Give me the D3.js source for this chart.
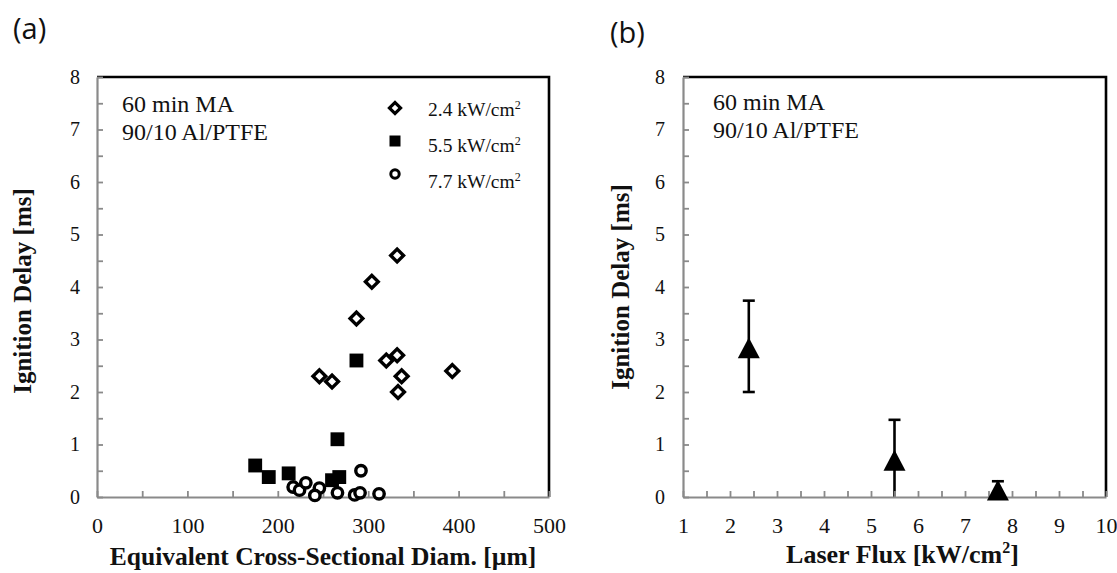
<!DOCTYPE html>
<html><head><meta charset="utf-8">
<script src="https://cdn.jsdelivr.net/npm/d3@7"></script>
<style>
body{margin:0;background:#fff}
svg{display:block}
svg text{font-family:'Liberation Serif','Times New Roman',serif !important;fill:#111}
svg text.panel{font-family:'Open Sans','Liberation Sans',sans-serif !important}
</style></head><body>
<svg id="c" width="1117" height="573"></svg>
<script>
// ---- data ----
const diam24  = [332, 304, 287, 320, 332, 246, 260, 337, 333, 393];
const delay24 = [4.6, 4.1, 3.4, 2.6, 2.7, 2.3, 2.2, 2.3, 2.0, 2.4];
const diam55  = [287, 266, 175, 190, 212, 260, 268];
const delay55 = [2.6, 1.1, 0.6, 0.38, 0.45, 0.32, 0.38];
const diam77  = [292, 217, 224, 231, 246, 241, 266, 285, 291, 312];
const delay77 = [0.5, 0.19, 0.13, 0.27, 0.17, 0.03, 0.08, 0.04, 0.08, 0.06];

const flux      = [2.4, 5.5, 7.7];
const meanDelay = [2.84, 0.70, 0.13];
const errLow    = [2.0, 0, 0];
const errHigh   = [3.74, 1.47, 0.3];

const legendLabels = ["2.4", "5.5", "7.7"];
const yTicks  = d3.range(0, 8.01, 0.5);
const xTicksA = d3.range(0, 500.1, 50);
const xTicksB = d3.range(1, 10.01, 0.5);
const annot = ["60 min MA", "90/10 Al/PTFE"];

// ---- layout ----
const svg = d3.select("#c");
const AX = "#8a8a8a";
const plotTop = 77, plotBottom = 497;
const A = {x0: 97, x1: 549};
const B = {x0: 683, x1: 1106};

const yA = d3.scaleLinear().domain([0, 8]).range([plotBottom, plotTop]);
const yB = d3.scaleLinear().domain([0, 8]).range([plotBottom, plotTop]);
const xA = d3.scaleLinear().domain([0, 500]).range([A.x0, A.x1]);
const xB = d3.scaleLinear().domain([1, 10]).range([B.x0, B.x1]);

function frame(x, y) {
  const g = svg.append("g");
  const [xa, xb] = x.range(); const [yb, ya] = y.range();
  g.append("path").attr("d", `M${xa},${ya}H${xb}V${yb}`)
    .attr("fill", "none").attr("stroke", "#000").attr("stroke-width", 2.6);
}

function axes(x, y, xt, yTickPad, xTickPad) {
  const gx = svg.append("g").attr("transform", `translate(0,${plotBottom})`)
    .call(d3.axisBottom(x).tickValues(xt).tickSizeInner(-6).tickSizeOuter(0)
      .tickPadding(xTickPad)
      .tickFormat(d => Number.isInteger(d) && (xt === xTicksA ? d % 100 === 0 : true) ? d3.format("d")(d) : ""));
  const gy = svg.append("g").attr("transform", `translate(${x.range()[0]},0)`)
    .call(d3.axisLeft(y).tickValues(yTicks).tickSizeInner(-6).tickSizeOuter(0)
      .tickPadding(yTickPad)
      .tickFormat(d => Number.isInteger(d) ? d : ""));
  [gx, gy].forEach(g => {
    g.attr("font-family", null);
    g.select(".domain").attr("stroke", AX).attr("stroke-width", 2.2);
    g.selectAll(".tick line").attr("stroke", AX).attr("stroke-width", 1.8);
    g.selectAll("text").attr("fill", "#111");
  });
  gx.selectAll("text").attr("font-size", 22);
  gy.selectAll("text").attr("font-size", 20);
}

// ---- panel (a) ----
frame(xA, yA);
axes(xA, yA, xTicksA, 17, 20);

const diamond = d3.symbol().type(d3.symbolSquare).size(82);
const square  = d3.symbol().type(d3.symbolSquare).size(192);

const gA = svg.append("g");
gA.selectAll(".dm").data(d3.zip(diam24, delay24)).join("path")
  .attr("d", diamond)
  .attr("transform", d => `translate(${xA(d[0])},${yA(d[1])}) rotate(45)`)
  .attr("fill", "#fff").attr("stroke", "#000").attr("stroke-width", 3.4);
gA.selectAll(".sq").data(d3.zip(diam55, delay55)).join("path")
  .attr("d", square)
  .attr("transform", d => `translate(${xA(d[0])},${yA(d[1])})`)
  .attr("fill", "#000");
gA.selectAll(".ci").data(d3.zip(diam77, delay77)).join("circle")
  .attr("cx", d => xA(d[0])).attr("cy", d => yA(d[1])).attr("r", 5.2)
  .attr("fill", "#fff").attr("stroke", "#000").attr("stroke-width", 3.4);

// legend
const lg = svg.append("g");
const lx = 395, ly = 108, lstep = 33, tstep = 36;
lg.append("path").attr("d", d3.symbol().type(d3.symbolSquare).size(62))
  .attr("transform", `translate(${lx},${ly}) rotate(45)`)
  .attr("fill", "#fff").attr("stroke", "#000").attr("stroke-width", 3.2);
lg.append("path").attr("d", d3.symbol().type(d3.symbolSquare).size(121))
  .attr("transform", `translate(${lx},${ly + lstep})`).attr("fill", "#000");
lg.append("circle").attr("cx", lx).attr("cy", ly + 2 * lstep).attr("r", 4.2)
  .attr("fill", "#fff").attr("stroke", "#000").attr("stroke-width", 3.0);
legendLabels.forEach((l, i) => {
  const t = lg.append("text").attr("x", 428).attr("y", 115.5 + i * tstep).attr("font-size", 19.5);
  t.append("tspan").text(l + " kW/cm");
  t.append("tspan").attr("font-size", 12).attr("dy", -7).text("2");
});

// annotations
function annotate(x, y0) {
  annot.forEach((s, i) => svg.append("text").attr("x", x).attr("y", y0 + i * 28)
    .attr("font-size", 24).text(s));
}
annotate(122, 112);

// ---- panel (b) ----
frame(xB, yB);
const gB = svg.append("g");
const data = d3.zip(flux, meanDelay, errLow, errHigh);
gB.selectAll(".eb").data(data).join("line")
  .attr("x1", d => xB(d[0])).attr("x2", d => xB(d[0]))
  .attr("y1", d => yB(d[2])).attr("y2", d => yB(d[3]))
  .attr("stroke", "#000").attr("stroke-width", 2.6);
const caps = [];
data.forEach(d => { if (d[2] > 0) caps.push([d[0], d[2]]); caps.push([d[0], d[3]]); });
gB.selectAll(".cap").data(caps).join("line")
  .attr("x1", d => xB(d[0]) - 6).attr("x2", d => xB(d[0]) + 6)
  .attr("y1", d => yB(d[1])).attr("y2", d => yB(d[1]))
  .attr("stroke", "#000").attr("stroke-width", 2.6);
axes(xB, yB, xTicksB, 18, 20);
const triBox = {draw(ctx, size) {
  const w = Math.sqrt(size), h = w * 0.95;
  ctx.moveTo(0, -h / 2); ctx.lineTo(w / 2, h / 2); ctx.lineTo(-w / 2, h / 2); ctx.closePath();
}};
svg.append("g").selectAll("path").data(data).join("path")
  .attr("d", d3.symbol().type(triBox).size(22 * 22))
  .attr("transform", d => `translate(${xB(d[0])},${yB(d[1])})`)
  .attr("fill", "#000");
annotate(713, 110);

// ---- titles ----
const bold = sel => sel.attr("font-weight", "bold").attr("font-size", 25.5).attr("text-anchor", "middle");
svg.append("text").attr("x", (A.x0 + A.x1) / 2 + 0).attr("y", 565).call(bold)
  .text("Equivalent Cross-Sectional Diam. [µm]");
const lf = svg.append("text").attr("x", (B.x0 + B.x1) / 2 + 8).attr("y", 563).call(bold).attr("font-size", 26);
lf.append("tspan").text("Laser Flux [kW/cm");
lf.append("tspan").attr("font-size", 16).attr("dy", -10).text("2");
lf.append("tspan").attr("dy", 10).text("]");
[[31, 291], [629, 287]].forEach(([x, y]) =>
  svg.append("text").attr("transform", `translate(${x},${y}) rotate(-90)`).call(bold)
    .attr("font-size", 25).text("Ignition Delay [ms]"));

// panel labels
svg.append("text").attr("class", "panel").attr("x", 13).attr("y", 39)
  .attr("font-size", 29).text("(a)");
svg.append("text").attr("class", "panel").attr("x", 610).attr("y", 43)
  .attr("font-size", 29).text("(b)");
</script></body></html>
